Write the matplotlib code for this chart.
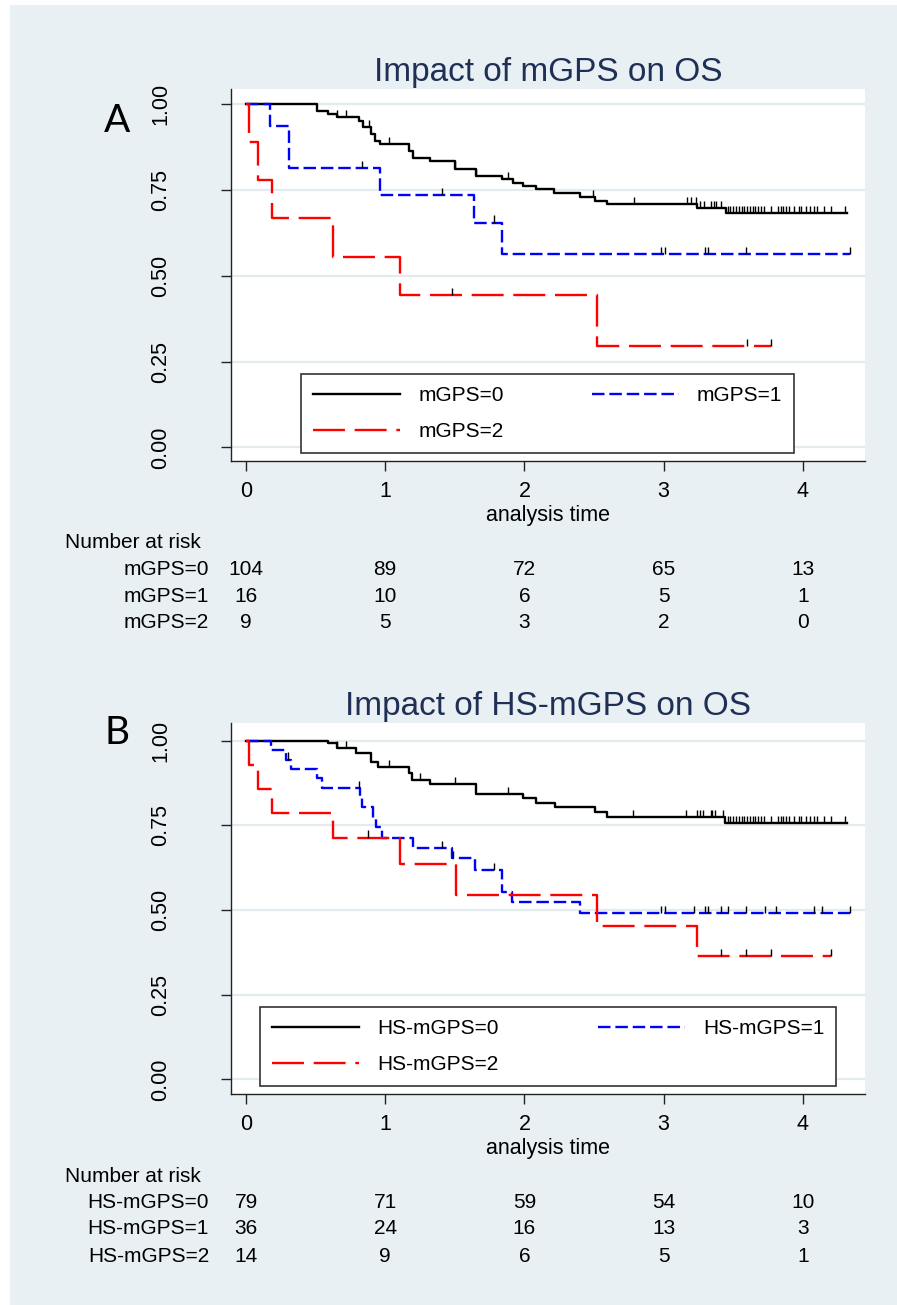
import numpy as np
import matplotlib
matplotlib.use("Agg")
import matplotlib.pyplot as plt
from matplotlib.patches import Rectangle
from matplotlib.transforms import blended_transform_factory

plt.rcParams['font.family'] = ['Liberation Sans', 'DejaVu Sans']
plt.rcParams['lines.scale_dashes'] = False

# ---------------- data ----------------
risk_times = [0, 1, 2, 3, 4]

# Panel A: mGPS
a_labels = ["mGPS=0", "mGPS=1", "mGPS=2"]
a0_t = [0.51, 0.59, 0.65, 0.81, 0.84, 0.90, 0.93, 0.96, 1.17, 1.20, 1.32, 1.50,
        1.65, 1.84, 1.92, 1.99, 2.08, 2.21, 2.40, 2.51, 2.59, 3.24, 3.45]
a0_s = [0.980, 0.971, 0.961, 0.951, 0.932, 0.912, 0.893, 0.883, 0.864, 0.844, 0.835, 0.812,
        0.791, 0.781, 0.771, 0.761, 0.752, 0.740, 0.730, 0.717, 0.708, 0.696, 0.683]
a0_end = 4.32
a0_cens = [0.65, 0.72, 0.88, 1.03, 1.50, 1.65, 1.88, 2.49, 2.79, 3.17, 3.20, 3.23, 3.26, 3.29,
           3.34, 3.36, 3.38, 3.41, 3.46, 3.48, 3.50, 3.52, 3.54, 3.56, 3.58, 3.60, 3.62, 3.64,
           3.66, 3.68, 3.70, 3.72, 3.77, 3.82, 3.84, 3.86, 3.88, 3.90, 3.94, 3.97, 3.99, 4.02,
           4.05, 4.08, 4.10, 4.15, 4.20, 4.30]
a1_t = [0.173, 0.31, 0.964, 1.635, 1.84]
a1_s = [0.9375, 0.8125, 0.734, 0.655, 0.562]
a1_end = 4.34
a1_cens = [0.836, 1.41, 1.78, 2.98, 3.01, 3.30, 3.32, 3.59, 4.34]
a2_t = [0.024, 0.089, 0.185, 0.628, 1.103, 2.523]
a2_s = [0.889, 0.778, 0.667, 0.556, 0.444, 0.296]
a2_end = 3.77
a2_cens = [1.48, 3.60, 3.77]
a_risk = [[104, 89, 72, 65, 13],
          [16, 10, 6, 5, 1],
          [9, 5, 3, 2, 0]]

# Panel B: HS-mGPS
b_labels = ["HS-mGPS=0", "HS-mGPS=1", "HS-mGPS=2"]
b0_t = [0.59, 0.65, 0.79, 0.90, 0.95, 1.17, 1.19, 1.32, 1.65, 1.99, 2.08, 2.22, 2.51, 2.59, 3.44]
b0_s = [0.992, 0.978, 0.963, 0.938, 0.923, 0.904, 0.884, 0.871, 0.843, 0.830, 0.815, 0.803,
        0.789, 0.774, 0.758]
b0_end = 4.32
b0_cens = [0.65, 0.72, 1.03, 1.25, 1.50, 1.88, 2.78, 3.16, 3.24, 3.26, 3.28, 3.34, 3.35, 3.37,
           3.43, 3.46, 3.48, 3.50, 3.52, 3.54, 3.56, 3.58, 3.60, 3.62, 3.64, 3.66, 3.68, 3.70,
           3.72, 3.77, 3.82, 3.84, 3.86, 3.88, 3.90, 3.94, 3.97, 3.99, 4.02, 4.05, 4.08, 4.10,
           4.15, 4.20, 4.30]
b1_t = [0.177, 0.288, 0.321, 0.513, 0.544, 0.82, 0.832, 0.91, 0.935, 0.975, 1.20, 1.48,
        1.646, 1.84, 1.91, 2.40]
b1_s = [0.972, 0.944, 0.917, 0.889, 0.859, 0.831, 0.803, 0.771, 0.746, 0.712, 0.682, 0.653,
        0.618, 0.554, 0.525, 0.492]
b1_end = 4.34
b1_cens = [0.30, 0.81, 1.41, 1.49, 1.78, 2.98, 3.01, 3.22, 3.30, 3.32, 3.41, 3.46, 3.59,
           3.73, 3.81, 4.08, 4.14, 4.34]
b2_t = [0.024, 0.089, 0.185, 0.628, 1.103, 1.51, 2.52, 3.24]
b2_s = [0.929, 0.857, 0.786, 0.714, 0.636, 0.545, 0.454, 0.364]
b2_end = 4.20
b2_cens = [0.875, 3.41, 3.59, 3.77, 4.20]
b_risk = [[79, 71, 59, 54, 10],
          [36, 24, 16, 13, 3],
          [14, 9, 6, 5, 1]]

# ---------------- styling ----------------
W, H = 897, 1305
bg = '#e8f0f3'
grid_c = '#e3ebee'
title_c = '#1f2f55'
colors = ['black', '#0000ff', '#ff0000']
dashes = [None, (9, 3.5), (23, 7)]
FS = 15

fig = plt.figure(figsize=(W / 100, H / 100), dpi=100, facecolor='white')
fig.patches.append(Rectangle((10 / W, 0), 1, 1 - 5 / H, transform=fig.transFigure,
                             facecolor=bg, edgecolor='none', zorder=-10))


def px_axes(left, top, right, bottom):
    return fig.add_axes([left / W, 1 - bottom / H, (right - left) / W, (bottom - top) / H])


def draw_panel(ax, curves, labels, risk, title, ylim, legend_box, letter, letter_y, bottom_px):
    ax.set_facecolor('white')
    tick_h = 0.021
    handles = []
    for (t, s, end, cens), col, dsh in zip(curves, colors, dashes):
        tt = np.r_[0.0, t, end]
        ss = np.r_[1.0, s, s[-1]]
        line, = ax.step(tt, ss, where='post', color=col, lw=1.7, zorder=3)
        if dsh is not None:
            line.set_dashes(dsh)
        idx = np.searchsorted(tt, cens, side='right') - 1
        ax.vlines(cens, ss[idx], ss[idx] + tick_h, color='black', lw=1.0, zorder=4)
        handles.append(line)

    ax.set_xlim(-0.108, 4.447)
    ax.set_ylim(*ylim)
    ax.set_xticks(risk_times)
    ax.set_yticks([0, 0.25, 0.5, 0.75, 1.0])
    ax.set_yticklabels(['0.00', '0.25', '0.50', '0.75', '1.00'])
    for lab in ax.get_yticklabels():
        lab.set_rotation(90)
        lab.set_va('center')
    ax.tick_params(axis='both', labelsize=15.5, length=7, width=1, color='#222222')
    ax.tick_params(axis='y', pad=36)
    ax.tick_params(axis='x', pad=7.5)
    ax.yaxis.grid(True, color=grid_c, lw=1.6)
    ax.set_axisbelow(True)
    for sp in ['top', 'right']:
        ax.spines[sp].set_visible(False)
    for sp in ['left', 'bottom']:
        ax.spines[sp].set_color('#222222')
        ax.spines[sp].set_linewidth(1)
    ax.set_xlabel('analysis time', fontsize=15.5, labelpad=2)
    ax.set_title(title, fontsize=24, color=title_c, pad=6)

    x0, y0, x1, y1 = legend_box
    leg = ax.legend([handles[0], handles[2], handles[1]], [labels[0], labels[2], labels[1]],
                    ncol=2, mode='expand', loc='center',
                    bbox_to_anchor=(x0 / W, 1 - y1 / H, (x1 - x0) / W, (y1 - y0) / H),
                    bbox_transform=fig.transFigure, fontsize=FS, handlelength=4.2,
                    handletextpad=0.85, labelspacing=0.81, borderpad=0.57,
                    fancybox=False, framealpha=1, borderaxespad=0)
    leg.get_frame().set_edgecolor('#333333')
    leg.get_frame().set_linewidth(1.2)

    fig.text(117 / W, 1 - letter_y / H, letter, fontsize=28, family='Lato',
             ha='center', va='center')

    # number at risk table
    tr = blended_transform_factory(ax.transData, fig.transFigure)
    fig.text(65 / W, 1 - (bottom_px + 82) / H, 'Number at risk', fontsize=FS,
             ha='left', va='center')
    for i, (lab, row) in enumerate(zip(labels, risk)):
        yy = 1 - (bottom_px + 108 + 27 * i) / H
        fig.text(209 / W, yy, lab, fontsize=FS, ha='right', va='center')
        for tx, n in zip(risk_times, row):
            ax.text(tx, yy, str(n), transform=tr, fontsize=FS, ha='center', va='center')


axA = px_axes(231, 89, 865, 461)
draw_panel(axA,
           [(a0_t, a0_s, a0_end, a0_cens), (a1_t, a1_s, a1_end, a1_cens),
            (a2_t, a2_s, a2_end, a2_cens)],
           a_labels, a_risk, 'Impact of mGPS on OS', (-0.0394, 1.0438),
           (301, 374, 794, 453), 'A', 121, 461)

axB = px_axes(231, 723, 865, 1094)
draw_panel(axB,
           [(b0_t, b0_s, b0_end, b0_cens), (b1_t, b1_s, b1_end, b1_cens),
            (b2_t, b2_s, b2_end, b2_cens)],
           b_labels, b_risk, 'Impact of HS-mGPS on OS', (-0.0428, 1.052),
           (260, 1007, 836, 1086), 'B', 733, 1094)

fig.savefig('out.png', dpi=100, facecolor=fig.get_facecolor())
